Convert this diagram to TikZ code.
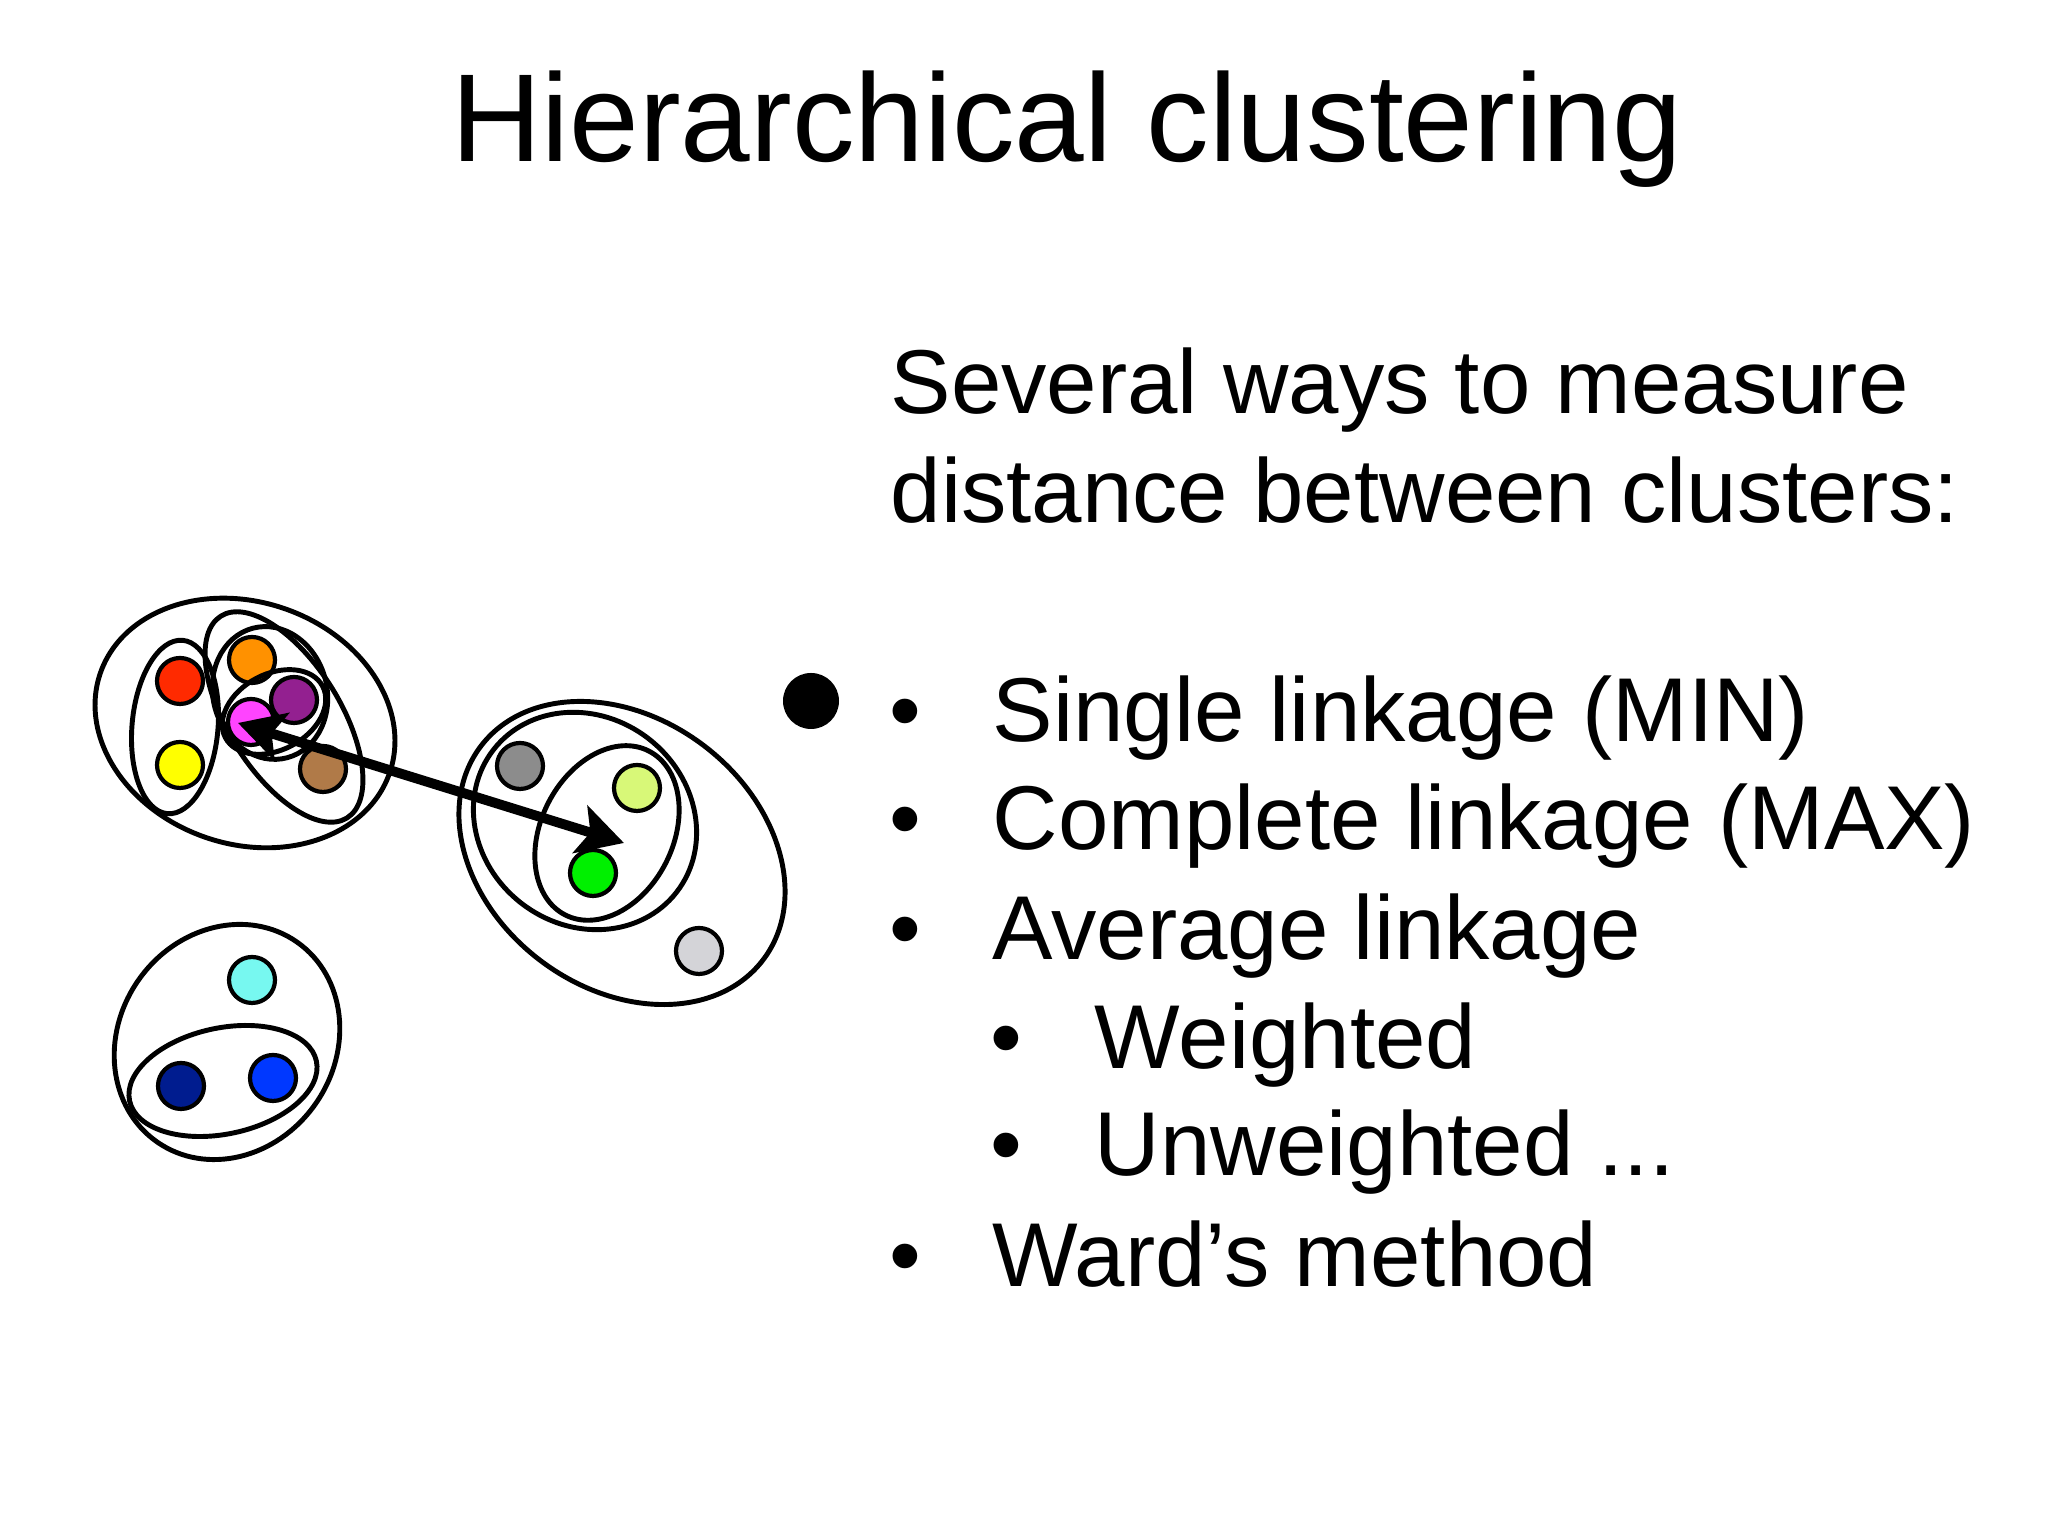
\documentclass[tikz,border=0pt]{standalone}
\usepackage{fontspec}
\setmainfont{Liberation Sans}
\usepackage{tikz}
\usetikzlibrary{arrows.meta, positioning}
\definecolor{ptred}{RGB}{255, 42, 0}
\definecolor{ptorange}{RGB}{255, 145, 0}
\definecolor{ptpurple}{RGB}{147, 32, 144}
\definecolor{ptmagenta}{RGB}{255, 68, 255}
\definecolor{ptyellow}{RGB}{255, 255, 0}
\definecolor{ptbrown}{RGB}{176, 122, 72}
\definecolor{ptgray}{RGB}{140, 140, 140}
\definecolor{ptlime}{RGB}{216, 248, 120}
\definecolor{ptgreen}{RGB}{0, 240, 0}
\definecolor{ptsilver}{RGB}{212, 212, 216}
\definecolor{ptcyan}{RGB}{119, 248, 240}
\definecolor{ptnavy}{RGB}{0, 28, 143}
\definecolor{ptblue}{RGB}{0, 56, 255}

\begin{document}
\begin{tikzpicture}[
    blob/.style={circle, draw=black, line width=1.2pt, minimum size=0.46cm, inner sep=0pt},
    ring/.style={draw=black, line width=1.4pt},
    dist/.style={{Stealth[length=13pt, width=14pt, inset=3pt]}-{Stealth[length=13pt, width=14pt, inset=3pt]}, line width=2.8pt},
    line/.style={anchor=base west, inner sep=0pt, font=\fontsize{25.8}{31}\selectfont},
    bul/.style={anchor=base, inner sep=0pt, font=\fontsize{25.8}{31}\selectfont}
]
\useasboundingbox (0,0) rectangle (20.48,15.36);
\fill[white] (0,0) rectangle (20.48,15.36);

\node[anchor=base, inner sep=0pt, font=\fontsize{35.6}{42}\selectfont] (title) at (10.67,13.74) {Hierarchical clustering};

% points, cluster 1
\node[blob, fill=ptred] (Red) at (1.80,8.55) {};
\node[blob, fill=ptorange] (Orange) at (2.52,8.76) {};
\node[blob, fill=ptpurple] (Purple) at (2.94,8.36) {};
\node[blob, fill=ptmagenta] (Magenta) at (2.51,8.14) {};
\node[blob, fill=ptyellow] (Yellow) at (1.80,7.71) {};
\node[blob, fill=ptbrown] (Brown) at (3.23,7.67) {};
% points, cluster 2
\node[blob, fill=ptgray] (Gray) at (5.20,7.70) {};
\node[blob, fill=ptlime] (Lime) at (6.37,7.48) {};
\node[blob, fill=ptgreen] (Green) at (5.93,6.63) {};
\node[blob, fill=ptsilver] (Silver) at (6.99,5.85) {};
% points, cluster 3
\node[blob, fill=ptcyan] (Cyan) at (2.52,5.56) {};
\node[blob, fill=ptnavy] (Navy) at (1.81,4.50) {};
\node[blob, fill=ptblue] (Blue) at (2.73,4.58) {};

% nested clusters
\draw[ring] (2.45,8.13) ellipse [x radius=1.53, y radius=1.21, rotate=-19];
\draw[ring] (1.75,8.09) ellipse [x radius=0.43, y radius=0.87, rotate=-5];
\draw[ring] (2.84,8.19) ellipse [x radius=0.56, y radius=1.19, rotate=32];
\draw[ring] (2.70,8.43) ellipse [x radius=0.57, y radius=0.67, rotate=15];
\draw[ring] (2.74,8.24) ellipse [x radius=0.55, y radius=0.38, rotate=28];

\draw[ring] (6.22,6.83) ellipse [x radius=1.77, y radius=1.35, rotate=-37];
\draw[ring] (5.85,7.15) ellipse [x radius=1.16, y radius=1.04, rotate=-38];
\draw[ring] (6.07,7.03) ellipse [x radius=0.66, y radius=0.92, rotate=-27];

\draw[ring] (2.27,4.94) ellipse [x radius=1.08, y radius=1.22, rotate=-35];
\draw[ring] (2.23,4.55) ellipse [x radius=0.955, y radius=0.53, rotate=12];

% distance between clusters
\coordinate (ArrA) at (2.38,8.13);
\coordinate (ArrB) at (6.24,6.93);
\draw[dist] (ArrA) -- (ArrB);

% text
\node[line] (intro1) at (8.90,11.22) {Several ways to measure};
\node[line] (intro2) at (8.90,10.13) {distance between clusters:};

\node[circle, fill=black, minimum size=0.56cm, inner sep=0pt] (bigdot) at (8.11,8.35) {};

\node[bul] (b1) at (9.05,7.94) {•};
\node[line] (i1) at (9.92,7.94) {Single linkage (MIN)};
\node[bul] (b2) at (9.05,6.86) {•};
\node[line] (i2) at (9.92,6.86) {Complete linkage (MAX)};
\node[bul] (b3) at (9.05,5.76) {•};
\node[line] (i3) at (9.92,5.76) {Average linkage};
\node[bul] (b4) at (10.06,4.67) {•};
\node[line] (i4) at (10.94,4.67) {Weighted};
\node[bul] (b5) at (10.06,3.60) {•};
\node[line] (i5) at (10.94,3.60) {Unweighted ...};
\node[bul] (b6) at (9.05,2.49) {•};
\node[line] (i6) at (9.92,2.49) {Ward’s method};
\end{tikzpicture}
\end{document}
